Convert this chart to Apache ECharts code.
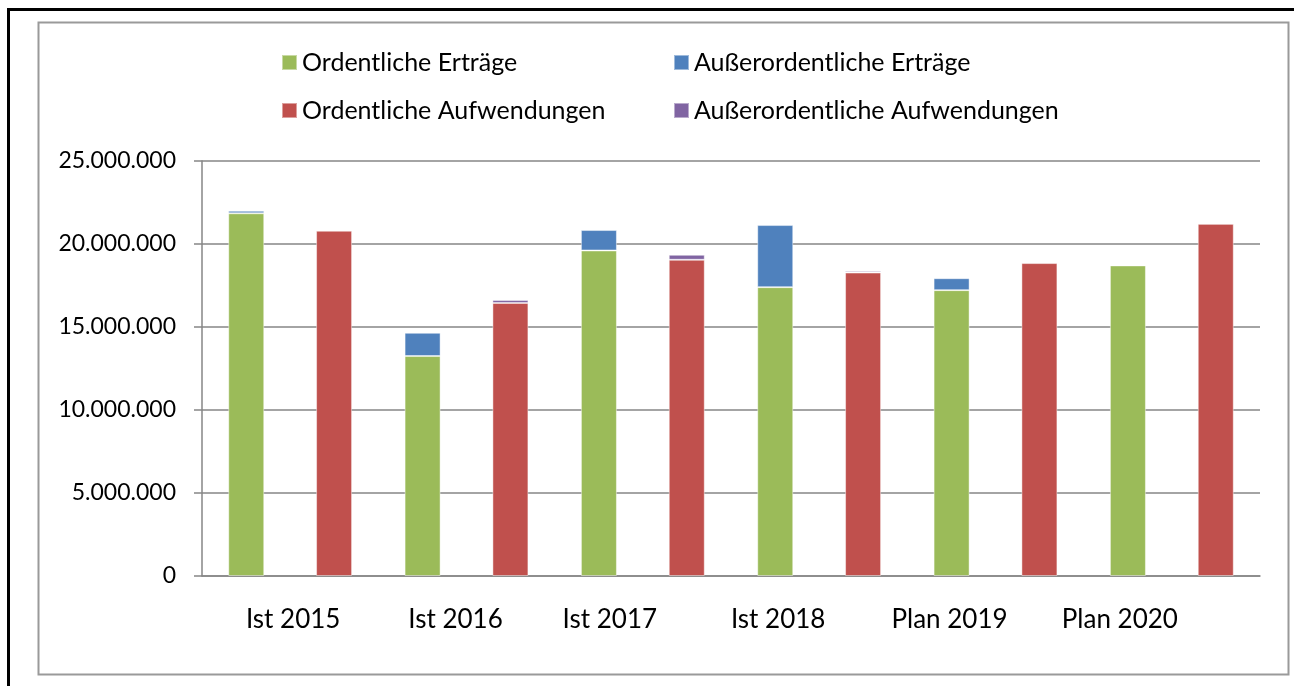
<!DOCTYPE html>
<html>
<head>
<meta charset="utf-8">
<script src="https://cdn.jsdelivr.net/npm/echarts@6/dist/echarts.min.js"></script>
<style>
  html, body { margin: 0; padding: 0; background: #fff; }
  #chart { width: 1294px; height: 686px; }
</style>
</head>
<body>
<div id="chart"></div>
<script>
// Kategorien (Jahre)
var categories = ['Ist 2015', 'Ist 2016', 'Ist 2017', 'Ist 2018', 'Plan 2019', 'Plan 2020'];

// Erträge
var ordentlicheErtraege = [21850000, 13250000, 19610000, 17400000, 17220000, 18710000];
var ausserordentlicheErtraege = [150000, 1400000, 1230000, 3740000, 720000, 0];

// Aufwendungen
var ordentlicheAufwendungen = [20800000, 16450000, 19050000, 18280000, 18850000, 21220000];
var ausserordentlicheAufwendungen = [50000, 180000, 300000, 90000, 50000, 0];

var yTicks = [0, 5000000, 10000000, 15000000, 20000000, 25000000];

// Verschiebung der X-Beschriftungen (wie im Original, nicht ganz mittig)
var labelShift = [3, -11, -33, -41, -46, -52];

var fontName = 'Lato';

function formatTausend(v) {
    return String(v).replace(/\B(?=(\d{3})+(?!\d))/g, '.');
}

// rich styles pro Beschriftung
var richLabels = {};
labelShift.forEach(function (d, i) {
    richLabels['c' + i] = {
        fontFamily: fontName,
        fontSize: 26,
        color: '#000',
        padding: d >= 0 ? [0, 0, 0, 2 * d] : [0, -2 * d, 0, 0]
    };
});

var chart = echarts.init(document.getElementById('chart'));

var barStyle = function (color) {
    return { color: color, borderColor: 'rgba(255,255,255,0.45)', borderWidth: 1 };
};

var legendText = { fontFamily: fontName, fontSize: 25, color: '#000' };

function legendItem(name, left, top) {
    return {
        left: left,
        top: top,
        padding: 0,
        itemWidth: 15,
        itemHeight: 15,
        itemGap: 7,
        icon: 'rect',
        textStyle: legendText,
        data: [name]
    };
}

var option = {
    animation: false,
    backgroundColor: '#fff',
    graphic: [
        {
            type: 'rect',
            shape: { x: 8.5, y: 9.5, width: 1400, height: 800 },
            style: { fill: 'none', stroke: '#000', lineWidth: 3 },
            silent: true
        },
        {
            type: 'rect',
            shape: { x: 38.5, y: 22.5, width: 1250, height: 652 },
            style: { fill: 'none', stroke: '#9a9a9a', lineWidth: 2 },
            silent: true
        }
    ],
    legend: [
        legendItem('Ordentliche Erträge', 281, 50),
        legendItem('Außerordentliche Erträge', 673, 50),
        legendItem('Ordentliche Aufwendungen', 281, 98),
        legendItem('Außerordentliche Aufwendungen', 673, 98)
    ],
    grid: {
        left: 202,
        right: 34,
        top: 161,
        bottom: 110,
        containLabel: false
    },
    xAxis: {
        type: 'category',
        data: categories,
        axisLine: { lineStyle: { color: '#868686', width: 1.5 } },
        axisTick: { show: false },
        axisLabel: {
            interval: 0,
            hideOverlap: false,
            fontFamily: fontName,
            fontSize: 26,
            color: '#000',
            margin: 31,
            formatter: function (v, i) {
                return '{c' + i + '|' + v + '}';
            },
            rich: richLabels
        }
    },
    yAxis: {
        type: 'value',
        min: 0,
        max: 25000000,
        interval: 5000000,
        axisLine: { show: true, lineStyle: { color: '#868686', width: 1.5 } },
        axisTick: { show: true, inside: false, length: 8, lineStyle: { color: '#868686', width: 1.5 } },
        splitLine: { lineStyle: { color: '#868686', width: 1.5 } },
        axisLabel: {
            fontFamily: fontName,
            fontSize: 23,
            color: '#000',
            margin: 26,
            formatter: function (v) {
                return yTicks.indexOf(v) >= 0 ? formatTausend(v) : '';
            }
        }
    },
    series: [
        {
            name: 'Ordentliche Erträge',
            type: 'bar',
            stack: 'ertraege',
            barWidth: 36,
            barGap: '144%',
            itemStyle: barStyle('#9BBB59'),
            data: ordentlicheErtraege
        },
        {
            name: 'Außerordentliche Erträge',
            type: 'bar',
            stack: 'ertraege',
            barWidth: 36,
            barGap: '144%',
            itemStyle: barStyle('#4F81BD'),
            data: ausserordentlicheErtraege
        },
        {
            name: 'Ordentliche Aufwendungen',
            type: 'bar',
            stack: 'aufwendungen',
            barWidth: 36,
            barGap: '144%',
            itemStyle: barStyle('#C0504D'),
            data: ordentlicheAufwendungen
        },
        {
            name: 'Außerordentliche Aufwendungen',
            type: 'bar',
            stack: 'aufwendungen',
            barWidth: 36,
            barGap: '144%',
            itemStyle: barStyle('#8064A2'),
            data: ausserordentlicheAufwendungen
        }
    ]
};

chart.setOption(option);
</script>
</body>
</html>
